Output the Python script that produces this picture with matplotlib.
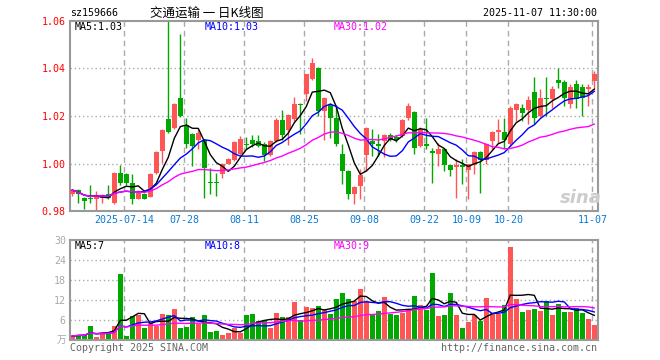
import matplotlib.pyplot as plt
import numpy as np
import pandas as pd

# daily candles, 2025-07-01 .. 2025-11-07
opens = [0.9871, 0.9889, 0.9857, 0.9857, 0.9853, 0.9857, 0.9871, 0.9833, 0.9962, 0.9955,
         0.9920, 0.9853, 0.9871, 0.9861, 0.9962, 1.0052, 1.0186, 1.0151, 1.0274, 1.0162,
         1.0123, 1.0098, 1.0098, 0.9918, 0.9918, 0.9958, 1.0000, 1.0014, 1.0039, 1.0083,
         1.0101, 1.0094, 1.0082, 1.0038, 1.0094, 1.0185, 1.0140, 1.0186, 1.0252, 1.0291,
         1.0354, 1.0402, 1.0221, 1.0246, 1.0193, 1.0042, 0.9969, 0.9871, 0.9905, 1.0038,
         1.0095, 1.0084, 1.0094, 1.0122, 1.0112, 1.0115, 1.0193, 1.0218, 1.0072, 1.0084,
         1.0053, 1.0042, 1.0063, 0.9993, 0.9986, 0.9993, 0.9972, 0.9993, 1.0049, 1.0014,
         1.0095, 1.0133, 1.0133, 1.0084, 1.0224, 1.0235, 1.0224, 1.0302, 1.0200, 1.0274,
         1.0273, 1.0351, 1.0343, 1.0252, 1.0336, 1.0322, 1.0315, 1.0347]
highs = [0.9895, 0.9892, 0.9860, 0.9909, 0.9885, 0.9871, 0.9909, 0.9965, 0.9993, 0.9962,
         0.9955, 0.9890, 0.9875, 0.9962, 1.0052, 1.0146, 1.0620, 1.0255, 1.0546, 1.0193,
         1.0128, 1.0144, 1.0102, 0.9983, 0.9960, 1.0003, 1.0024, 1.0095, 1.0116, 1.0112,
         1.0122, 1.0122, 1.0090, 1.0098, 1.0190, 1.0227, 1.0208, 1.0281, 1.0255, 1.0378,
         1.0445, 1.0405, 1.0280, 1.0255, 1.0246, 1.0081, 0.9972, 0.9905, 0.9976, 1.0153,
         1.0144, 1.0123, 1.0125, 1.0130, 1.0120, 1.0188, 1.0256, 1.0222, 1.0155, 1.0193,
         1.0067, 1.0088, 1.0066, 0.9996, 1.0018, 1.0018, 1.0000, 1.0052, 1.0052, 1.0088,
         1.0136, 1.0186, 1.0193, 1.0240, 1.0256, 1.0252, 1.0284, 1.0364, 1.0312, 1.0364,
         1.0326, 1.0403, 1.0351, 1.0336, 1.0351, 1.0336, 1.0336, 1.0389]
lows = [0.9865, 0.9836, 0.9808, 0.9836, 0.9801, 0.9836, 0.9850, 0.9830, 0.9910, 0.9910,
        0.9830, 0.9850, 0.9850, 0.9858, 0.9958, 1.0001, 1.0128, 1.0145, 1.0195, 1.0067,
        0.9990, 1.0060, 0.9857, 0.9871, 0.9864, 0.9938, 0.9997, 1.0010, 1.0035, 1.0062,
        1.0068, 1.0070, 1.0010, 1.0032, 1.0090, 1.0098, 1.0080, 1.0180, 1.0123, 1.0263,
        1.0350, 1.0200, 1.0101, 1.0109, 1.0075, 0.9913, 0.9850, 0.9829, 0.9850, 0.9968,
        1.0032, 1.0032, 1.0030, 1.0095, 1.0090, 1.0110, 1.0183, 1.0040, 1.0068, 1.0060,
        0.9920, 0.9990, 0.9969, 0.9948, 0.9857, 0.9913, 0.9850, 0.9958, 0.9878, 1.0000,
        1.0060, 1.0088, 1.0063, 1.0074, 1.0180, 1.0180, 1.0168, 1.0168, 1.0195, 1.0200,
        1.0235, 1.0318, 1.0242, 1.0232, 1.0232, 1.0200, 1.0242, 1.0312]
closes = [0.9889, 0.9871, 0.9843, 0.9850, 0.9867, 0.9867, 0.9857, 0.9962, 0.9920, 0.9920,
          0.9853, 0.9878, 0.9853, 0.9955, 1.0049, 1.0143, 1.0133, 1.0252, 1.0200, 1.0084,
          1.0074, 1.0130, 0.9983, 0.9917, 0.9917, 1.0000, 1.0021, 1.0091, 1.0102, 1.0080,
          1.0082, 1.0075, 1.0035, 1.0094, 1.0185, 1.0122, 1.0205, 1.0252, 1.0246, 1.0375,
          1.0424, 1.0221, 1.0277, 1.0193, 1.0081, 0.9969, 0.9871, 0.9902, 0.9954, 1.0150,
          1.0084, 1.0074, 1.0122, 1.0101, 1.0098, 1.0185, 1.0240, 1.0066, 1.0145, 1.0074,
          1.0043, 1.0063, 0.9993, 0.9972, 0.9993, 0.9986, 0.9997, 1.0049, 1.0014, 1.0081,
          1.0133, 1.0141, 1.0099, 1.0235, 1.0252, 1.0214, 1.0266, 1.0193, 1.0274, 1.0270,
          1.0315, 1.0337, 1.0277, 1.0322, 1.0270, 1.0274, 1.0322, 1.0375]
# volume, 万
volumes = [1.3, 1.6, 1.6, 4.3, 1.1, 2.3, 2.3, 4.3, 19.9, 1.3,
           7.3, 7.6, 3.8, 5.1, 4.3, 7.9, 7.6, 9.4, 3.8, 4.1,
           7.0, 4.8, 7.6, 2.6, 2.9, 1.6, 2.1, 3.8, 2.3, 7.6,
           7.9, 5.9, 6.1, 3.8, 8.3, 7.0, 7.0, 11.5, 6.1, 10.0,
           9.7, 10.3, 9.4, 7.9, 12.4, 14.3, 12.4, 11.8, 15.4, 11.8,
           7.9, 8.8, 13.0, 8.0, 7.6, 8.3, 9.5, 13.3, 10.6, 9.1,
           20.2, 7.3, 7.6, 14.3, 7.6, 3.8, 5.5, 7.6, 5.8, 12.7,
           8.3, 8.0, 10.6, 28.1, 12.4, 8.5, 9.1, 9.4, 8.8, 11.8,
           7.6, 10.9, 8.5, 8.5, 9.7, 8.2, 6.4, 4.6]

tick_idx = [9, 19, 29, 39, 49, 59, 66, 73, 87]
tick_labels = ['2025-07-14', '07-28', '08-11', '08-25', '09-08', '09-22', '10-09', '10-20', '11-07']
price_ticks = [0.98, 1.00, 1.02, 1.04, 1.06]
vol_ticks = [0, 6, 12, 18, 24, 30]

UP = '#ff5555'
DOWN = '#00a800'
MONO = 'DejaVu Sans Mono'
GRID = '#aaaaaa'

o = np.array(opens)
h = np.array(highs)
l = np.array(lows)
c = np.array(closes)
v = np.array(volumes)
x = np.arange(len(c))
cols = np.where(c >= o, UP, DOWN)

ma_cols = {5: 'black', 10: '#0000ff', 30: '#ff00ff'}
pma = {n: pd.Series(c).rolling(n, min_periods=1).mean() for n in ma_cols}
vma = {n: pd.Series(v).rolling(n, min_periods=1).mean() for n in ma_cols}

W, H = 660, 360
fig = plt.figure(figsize=(6.6, 3.6), dpi=100)
ax = fig.add_axes([70 / W, 1 - 211.3 / H, 527.7 / W, 190.6 / H])
axv = fig.add_axes([70 / W, 1 - 340.3 / H, 527.7 / W, 100 / H])

for a in (ax, axv):
    a.set_xlim(-0.383, 87.57)
    for s in a.spines.values():
        s.set_color('#999999')
        s.set_linewidth(1.5)
    a.tick_params(length=0, pad=3)
    for t in tick_idx:
        a.axvline(t - 0.33, color=GRID, lw=1, ls=(0, (4, 3)), zorder=0)

# price panel
ax.set_ylim(0.98, 1.06)
for yv in price_ticks[1:-1]:
    ax.axhline(yv, color=GRID, lw=1, ls=(0, (1, 2)), zorder=0)
ax.vlines(x, l, h, colors=cols, lw=1, zorder=2)
ax.bar(x, np.maximum(np.abs(c - o), 0.0004), 0.75, bottom=np.minimum(o, c),
       color=cols, zorder=3)
for n, col in ma_cols.items():
    ax.plot(x, pma[n], color=col, lw=1, zorder=4)
ax.set_yticks(price_ticks)
ax.set_yticklabels(['%.2f' % t for t in price_ticks], color='#ff0000',
                   family=MONO, fontsize=7.2)
ax.set_xticks([t - 0.33 for t in tick_idx])
ax.set_xticklabels(tick_labels, color='#0a7ad4', family=MONO, fontsize=7.2)

# volume panel
axv.set_ylim(0, 30)
for yv in vol_ticks[1:-1]:
    axv.axhline(yv, color=GRID, lw=1, ls=(0, (1, 2)), zorder=0)
axv.bar(x, v, 0.83, color=cols, zorder=2)
for n, col in ma_cols.items():
    axv.plot(x, vma[n], color=col, lw=1, zorder=3)
axv.set_yticks(vol_ticks)
axv.set_yticklabels([''] + [str(t) for t in vol_ticks[1:]], color='#aaaaaa',
                    family=MONO, fontsize=7.2)
axv.set_xticks([])


def ftext(px, py, s, **kw):
    kw.setdefault('family', MONO)
    kw.setdefault('fontsize', 7.2)
    kw.setdefault('va', 'center')
    fig.text(px / W, 1 - py / H, s, **kw)


ftext(70, 13, 'sz159666', color='black')
ftext(150, 13, '交通运输 一 日K线图', color='black', fontsize=9,
      family=['Noto Sans CJK SC', 'DejaVu Sans'])
ftext(597, 13, '2025-11-07 11:30:00', color='black', ha='right')

ftext(75, 26.5, 'MA5:1.03', color='black')
ftext(205, 26.5, 'MA10:1.03', color='#0000ff')
ftext(334, 26.5, 'MA30:1.02', color='#ff00ff')
ftext(75, 246, 'MA5:7', color='black')
ftext(205, 246, 'MA10:8', color='#0000ff')
ftext(334, 246, 'MA30:9', color='#ff00ff')

ftext(66, 340, '万', color='#aaaaaa', ha='right', fontsize=7,
      family=['Noto Sans CJK SC', 'DejaVu Sans'])
ftext(70, 348, 'Copyright 2025 SINA.COM', color='#666666')
ftext(597, 348, 'http://finance.sina.com.cn', color='#666666', ha='right')
ftext(560, 198, 'sina', color='#cccccc', fontsize=13, family='DejaVu Sans',
      style='italic', weight='bold')

fig.savefig('out.png', dpi=100)
